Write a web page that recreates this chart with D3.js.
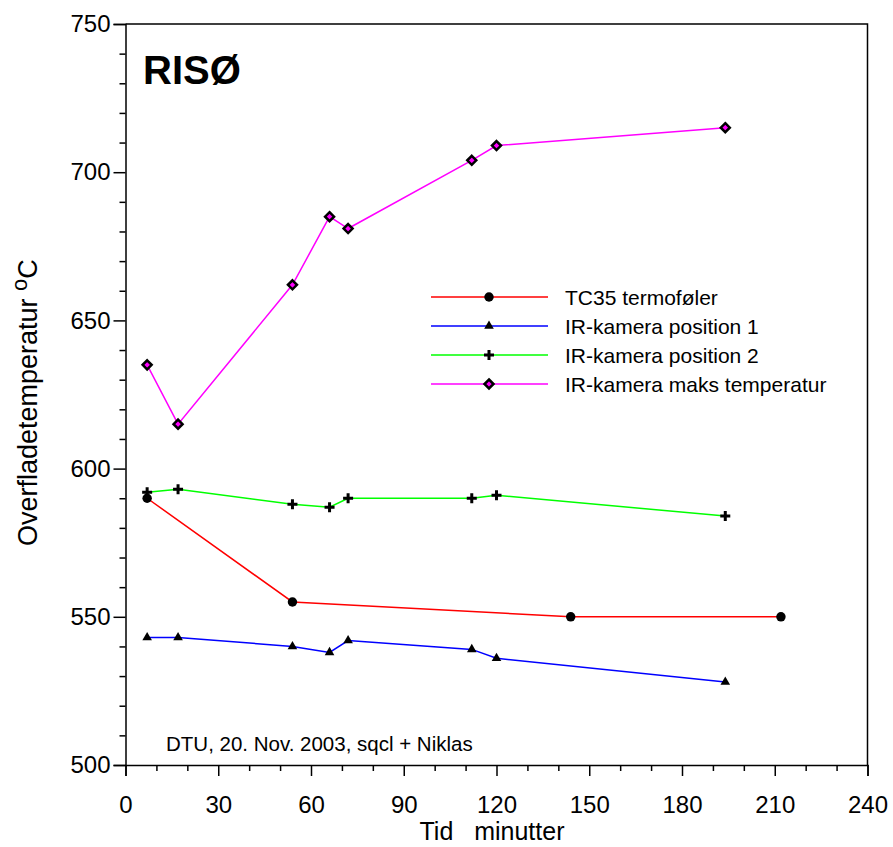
<!DOCTYPE html>
<html>
<head>
<meta charset="utf-8">
<script src="https://cdn.jsdelivr.net/npm/d3@7"></script>
<style>
  body { margin: 0; background: #fff; }
  svg { font-family: Arial, "Liberation Sans", sans-serif; }
</style>
</head>
<body>
<svg id="chart" width="893" height="847"></svg>
<script>
// data
var tIR = [7, 17, 54, 66, 72, 112, 120, 194];
var tTC = [7, 54, 144, 212];
var tc35 = [590, 555, 550, 550];
var irPos1 = [543, 543, 540, 538, 542, 539, 536, 528];
var irPos2 = [592, 593, 588, 587, 590, 590, 591, 584];
var irMaks = [635, 615, 662, 685, 681, 704, 709, 715];
var xTicks = [0, 30, 60, 90, 120, 150, 180, 210, 240];
var yTicks = [500, 550, 600, 650, 700, 750];

var series = [
  { name: "TC35 termoføler", t: tTC, v: tc35, color: "#ff0000", marker: "circle" },
  { name: "IR-kamera position 1", t: tIR, v: irPos1, color: "#0000ff", marker: "triangle" },
  { name: "IR-kamera position 2", t: tIR, v: irPos2, color: "#00ff00", marker: "cross" },
  { name: "IR-kamera maks temperatur", t: tIR, v: irMaks, color: "#ff00ff", marker: "diamond" }
];

var svg = d3.select("#chart"),
  margin = { top: 24, right: 25.5, bottom: 82, left: 125.5 },
  width = +svg.attr("width") - margin.left - margin.right,
  height = +svg.attr("height") - margin.top - margin.bottom;

var x = d3.scaleLinear().domain([0, 240]).range([0, width]);
var y = d3.scaleLinear().domain([500, 750]).range([height, 0]);

var g = svg.append("g")
  .attr("transform", "translate(" + margin.left + "," + margin.top + ")");

// frame top + right
g.append("path")
  .attr("d", "M0,0H" + width + "V" + height)
  .attr("fill", "none").attr("stroke", "#000").attr("stroke-width", 1.5);

// minor ticks every 10
var xMinor = d3.range(0, 241, 10).filter(function(d) { return d % 30; });
var yMinor = d3.range(500, 751, 10).filter(function(d) { return d % 50; });

var xAxis = g.append("g").attr("transform", "translate(0," + height + ")")
  .call(d3.axisBottom(x).tickValues(xTicks).tickSize(11));
var xm = g.append("g").attr("transform", "translate(0," + height + ")")
  .call(d3.axisBottom(x).tickValues(xMinor).tickSize(6).tickFormat(""));
xm.select(".domain").remove();

var yAxis = g.append("g")
  .call(d3.axisLeft(y).tickValues(yTicks).tickSize(12).tickPadding(3));
var ym = g.append("g")
  .call(d3.axisLeft(y).tickValues(yMinor).tickSize(6).tickFormat(""));
ym.select(".domain").remove();

[xAxis, yAxis, xm, ym].forEach(function(a) {
  a.selectAll("path, line").attr("stroke", "#000").attr("stroke-width", 1.5);
});
[xAxis, yAxis].forEach(function(a) {
  a.selectAll("text").attr("font-size", 24).attr("fill", "#000")
    .attr("font-family", "Arial, 'Liberation Sans', sans-serif");
});
xAxis.selectAll("text").attr("y", 48).attr("dy", 0);

// lines
var line = d3.line()
  .x(function(d) { return x(d[0]); })
  .y(function(d) { return y(d[1]); });

function markerPath(type) {
  if (type === "circle") {
    return d3.symbol().type(d3.symbolCircle).size(70)();
  } else if (type === "triangle") {
    return d3.symbol().type(d3.symbolTriangle).size(40)();
  } else if (type === "cross") {
    return "M-5,0H5M0,-5V5";
  } else {
    return "M0,-4.5L4.5,0L0,4.5L-4.5,0Z";
  }
}

function drawMarker(sel, type, cx, cy) {
  var p = sel.append("path")
    .attr("transform", "translate(" + cx + "," + cy + ")")
    .attr("d", markerPath(type));
  if (type === "cross") {
    p.attr("fill", "none").attr("stroke", "#000").attr("stroke-width", 3);
  } else if (type === "diamond") {
    p.attr("fill", "#ff00ff").attr("stroke", "#000").attr("stroke-width", 2.5);
  } else {
    p.attr("fill", "#000");
  }
}

series.forEach(function(s) {
  var pts = s.t.map(function(t, i) { return [t, s.v[i]]; });
  g.append("path")
    .datum(pts)
    .attr("d", line)
    .attr("fill", "none")
    .attr("stroke", s.color)
    .attr("stroke-width", 1.5);
  pts.forEach(function(p) {
    drawMarker(g, s.marker, x(p[0]), y(p[1]));
  });
});

// legend
var legend = svg.append("g").attr("transform", "translate(431,297)");
series.forEach(function(s, i) {
  var row = legend.append("g").attr("transform", "translate(0," + (i * 29) + ")");
  row.append("line").attr("x1", 0).attr("x2", 117).attr("y1", 0).attr("y2", 0)
    .attr("stroke", s.color).attr("stroke-width", 1.5);
  drawMarker(row, s.marker, 58, 0);
  row.append("text").attr("x", 134).attr("y", 0).attr("dy", "0.36em")
    .attr("font-size", 21).text(s.name);
});

// texts
svg.append("text").attr("x", 143).attr("y", 84)
  .attr("font-size", 40).attr("font-weight", "bold").text("RISØ");

svg.append("text").attr("x", 166).attr("y", 751)
  .attr("font-size", 20.5).text("DTU, 20. Nov. 2003, sqcl + Niklas");

svg.append("text").attr("x", 492).attr("y", 840)
  .attr("text-anchor", "middle").attr("font-size", 25)
  .attr("xml:space", "preserve").text("Tid   minutter");

var yl = svg.append("text")
  .attr("transform", "translate(37,546) rotate(-90)")
  .attr("font-size", 27);
yl.append("tspan").text("Overfladetemperatur  ");
yl.append("tspan").attr("dy", -10).attr("font-size", 22).text("o");
yl.append("tspan").attr("dy", 10).text("C");
</script>
</body>
</html>
